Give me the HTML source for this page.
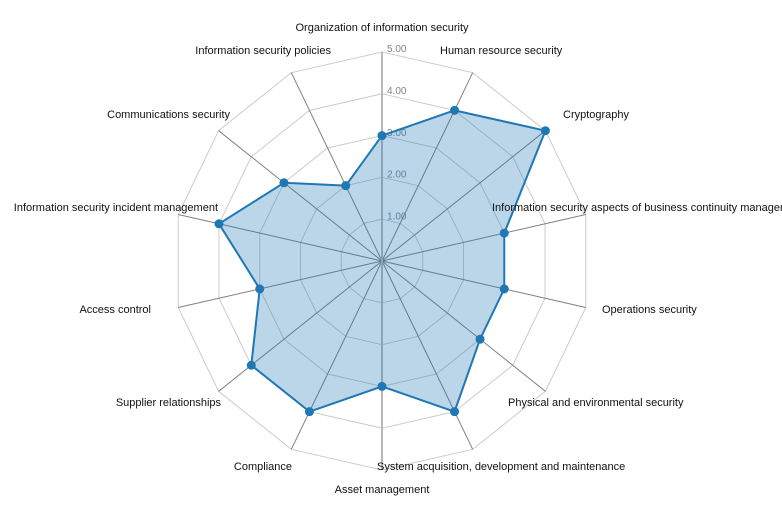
<!DOCTYPE html>
<html><head><meta charset="utf-8"><style>
html,body{margin:0;padding:0;background:#fff;}
svg{display:block;}
text{font-family:"Liberation Sans",Arial,sans-serif;}
</style></head><body>
<svg width="782" height="510" viewBox="0 0 782 510" xmlns="http://www.w3.org/2000/svg">
<g fill="none" stroke="#cccccc" stroke-width="1">
<polygon points="382,52 472.68,72.70 545.40,130.69 585.76,214.49 585.76,307.51 545.40,391.31 472.68,449.30 382,470 291.32,449.30 218.60,391.31 178.24,307.51 178.24,214.49 218.60,130.69 291.32,72.70"/>
<polygon points="382,93.8 454.54,110.36 512.72,156.75 545.01,223.79 545.01,298.21 512.72,365.25 454.54,411.64 382,428.2 309.46,411.64 251.28,365.25 218.99,298.21 218.99,223.79 251.28,156.75 309.46,110.36"/>
<polygon points="382,135.6 436.41,148.02 480.04,182.81 504.26,233.10 504.26,288.90 480.04,339.19 436.41,373.98 382,386.4 327.59,373.98 283.96,339.19 259.74,288.90 259.74,233.10 283.96,182.81 327.59,148.02"/>
<polygon points="382,177.4 418.27,185.68 447.36,208.88 463.50,242.40 463.50,279.60 447.36,313.12 418.27,336.32 382,344.6 345.73,336.32 316.64,313.12 300.50,279.60 300.50,242.40 316.64,208.88 345.73,185.68"/>
<polygon points="382,219.2 400.14,223.34 414.68,234.94 422.75,251.70 422.75,270.30 414.68,287.06 400.14,298.66 382,302.8 363.86,298.66 349.32,287.06 341.25,270.30 341.25,251.70 349.32,234.94 363.86,223.34"/>
</g>
<g stroke="#808080" stroke-width="1">
<line x1="382" y1="261" x2="472.68" y2="72.70"/>
<line x1="382" y1="261" x2="545.40" y2="130.69"/>
<line x1="382" y1="261" x2="585.76" y2="214.49"/>
<line x1="382" y1="261" x2="585.76" y2="307.51"/>
<line x1="382" y1="261" x2="545.40" y2="391.31"/>
<line x1="382" y1="261" x2="472.68" y2="449.30"/>
<line x1="382" y1="261" x2="291.32" y2="449.30"/>
<line x1="382" y1="261" x2="218.60" y2="391.31"/>
<line x1="382" y1="261" x2="178.24" y2="307.51"/>
<line x1="382" y1="261" x2="178.24" y2="214.49"/>
<line x1="382" y1="261" x2="218.60" y2="130.69"/>
<line x1="382" y1="261" x2="291.32" y2="72.70"/>
</g>
<line x1="382" y1="52" x2="382" y2="470" stroke="#b8b8b8" stroke-width="2"/>
<g font-size="10" fill="#7a8592">
<text x="387" y="52">5.00</text>
<text x="387" y="94">4.00</text>
<text x="387" y="136">3.00</text>
<text x="387" y="177.5">2.00</text>
<text x="387" y="219.5">1.00</text>
</g>
<polygon points="382,135.6 454.54,110.36 545.40,130.69 504.26,233.10 504.26,288.90 480.04,339.19 454.54,411.64 382,386.4 309.46,411.64 251.28,365.25 259.74,288.90 218.99,223.79 283.96,182.81 345.73,185.68" fill="rgba(31,119,180,0.3)" stroke="#1f77b4" stroke-width="2" stroke-linejoin="round"/>
<g fill="#1f77b4">
<circle cx="382" cy="135.6" r="4.5"/>
<circle cx="454.54" cy="110.36" r="4.5"/>
<circle cx="545.40" cy="130.69" r="4.5"/>
<circle cx="504.26" cy="233.10" r="4.5"/>
<circle cx="504.26" cy="288.90" r="4.5"/>
<circle cx="480.04" cy="339.19" r="4.5"/>
<circle cx="454.54" cy="411.64" r="4.5"/>
<circle cx="382" cy="386.4" r="4.5"/>
<circle cx="309.46" cy="411.64" r="4.5"/>
<circle cx="251.28" cy="365.25" r="4.5"/>
<circle cx="259.74" cy="288.90" r="4.5"/>
<circle cx="218.99" cy="223.79" r="4.5"/>
<circle cx="283.96" cy="182.81" r="4.5"/>
<circle cx="345.73" cy="185.68" r="4.5"/>
</g>
<g font-size="11" fill="#111" dominant-baseline="middle">
<text x="382" y="28" text-anchor="middle">Organization of information security</text>
<text x="440" y="51">Human resource security</text>
<text x="563" y="115">Cryptography</text>
<text x="492" y="208">Information security aspects of business continuity management</text>
<text x="602" y="310">Operations security</text>
<text x="508" y="403">Physical and environmental security</text>
<text x="377" y="467">System acquisition, development and maintenance</text>
<text x="382" y="490" text-anchor="middle">Asset management</text>
<text x="292" y="467" text-anchor="end">Compliance</text>
<text x="221" y="403" text-anchor="end">Supplier relationships</text>
<text x="151" y="310" text-anchor="end">Access control</text>
<text x="218" y="208" text-anchor="end">Information security incident management</text>
<text x="230" y="115" text-anchor="end">Communications security</text>
<text x="331" y="51" text-anchor="end">Information security policies</text>
</g>
</svg>
</body></html>
